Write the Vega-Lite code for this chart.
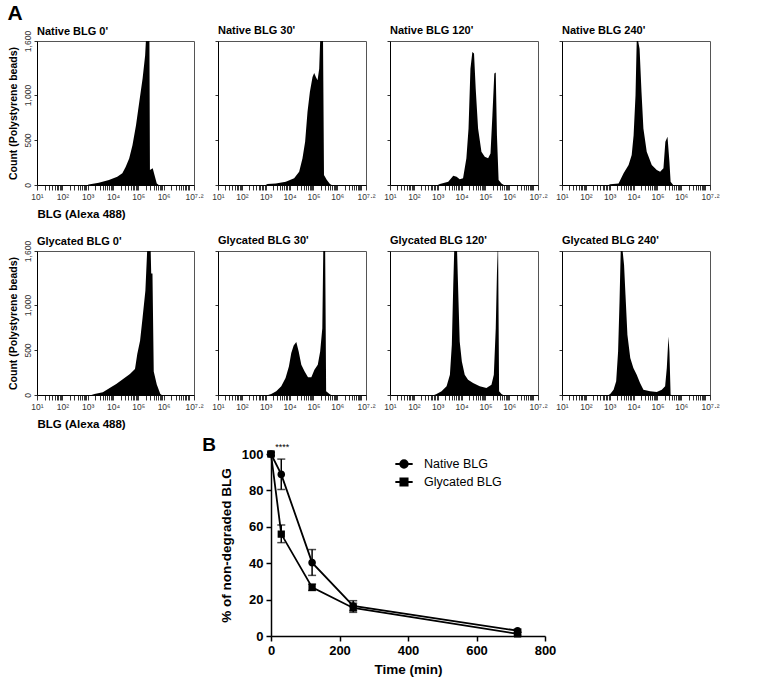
{
  "$schema": "https://vega.github.io/schema/vega-lite/v6.json",
  "title": {"text": "A", "fontSize": 21, "fontWeight": "bold", "anchor": "start", "frame": "bounds", "offset": 0},
  "padding": {"left": 7, "top": 3, "right": 3, "bottom": 2},
  "spacing": 4,
  "resolve": {"legend": {"shape": "independent", "stroke": "independent"}},
  "datasets": {
    "hist": [
      {"panel": "N0", "logI": 3.0, "count": 0}, {"panel": "N0", "logI": 3.04, "count": 5}, {"panel": "N0", "logI": 3.44, "count": 26}, {"panel": "N0", "logI": 3.84, "count": 55}, {"panel": "N0", "logI": 4.17, "count": 92}, {"panel": "N0", "logI": 4.37, "count": 130}, {"panel": "N0", "logI": 4.5, "count": 200}, {"panel": "N0", "logI": 4.64, "count": 295}, {"panel": "N0", "logI": 4.77, "count": 443}, {"panel": "N0", "logI": 4.91, "count": 665}, {"panel": "N0", "logI": 5.04, "count": 924}, {"panel": "N0", "logI": 5.17, "count": 1183}, {"panel": "N0", "logI": 5.27, "count": 1440}, {"panel": "N0", "logI": 5.3, "count": 1600}, {"panel": "N0", "logI": 5.44, "count": 1600}, {"panel": "N0", "logI": 5.46, "count": 166}, {"panel": "N0", "logI": 5.57, "count": 185}, {"panel": "N0", "logI": 5.64, "count": 110}, {"panel": "N0", "logI": 5.73, "count": 18}, {"panel": "N0", "logI": 5.81, "count": 0},
      {"panel": "N30", "logI": 3.0, "count": 0}, {"panel": "N30", "logI": 3.07, "count": 10}, {"panel": "N30", "logI": 3.42, "count": 18}, {"panel": "N30", "logI": 3.84, "count": 37}, {"panel": "N30", "logI": 4.19, "count": 74}, {"panel": "N30", "logI": 4.4, "count": 148}, {"panel": "N30", "logI": 4.54, "count": 296}, {"panel": "N30", "logI": 4.65, "count": 480}, {"panel": "N30", "logI": 4.75, "count": 813}, {"panel": "N30", "logI": 4.85, "count": 1035}, {"panel": "N30", "logI": 4.96, "count": 1200}, {"panel": "N30", "logI": 5.03, "count": 1245}, {"panel": "N30", "logI": 5.1, "count": 1200}, {"panel": "N30", "logI": 5.17, "count": 1164}, {"panel": "N30", "logI": 5.24, "count": 1293}, {"panel": "N30", "logI": 5.28, "count": 1600}, {"panel": "N30", "logI": 5.4, "count": 1600}, {"panel": "N30", "logI": 5.44, "count": 111}, {"panel": "N30", "logI": 5.56, "count": 55}, {"panel": "N30", "logI": 5.69, "count": 10}, {"panel": "N30", "logI": 5.76, "count": 0},
      {"panel": "N120", "logI": 3.0, "count": 0}, {"panel": "N120", "logI": 3.09, "count": 10}, {"panel": "N120", "logI": 3.44, "count": 37}, {"panel": "N120", "logI": 3.65, "count": 103}, {"panel": "N120", "logI": 3.79, "count": 92}, {"panel": "N120", "logI": 3.92, "count": 63}, {"panel": "N120", "logI": 4.06, "count": 74}, {"panel": "N120", "logI": 4.2, "count": 296}, {"panel": "N120", "logI": 4.29, "count": 628}, {"panel": "N120", "logI": 4.37, "count": 1293}, {"panel": "N120", "logI": 4.45, "count": 1478}, {"panel": "N120", "logI": 4.52, "count": 1460}, {"panel": "N120", "logI": 4.59, "count": 1072}, {"panel": "N120", "logI": 4.69, "count": 628}, {"panel": "N120", "logI": 4.83, "count": 370}, {"panel": "N120", "logI": 4.97, "count": 314}, {"panel": "N120", "logI": 5.11, "count": 296}, {"panel": "N120", "logI": 5.21, "count": 351}, {"panel": "N120", "logI": 5.29, "count": 776}, {"panel": "N120", "logI": 5.37, "count": 1238}, {"panel": "N120", "logI": 5.43, "count": 1250}, {"panel": "N120", "logI": 5.48, "count": 554}, {"panel": "N120", "logI": 5.55, "count": 55}, {"panel": "N120", "logI": 5.67, "count": 18}, {"panel": "N120", "logI": 5.77, "count": 0},
      {"panel": "N240", "logI": 2.95, "count": 0}, {"panel": "N240", "logI": 3.02, "count": 7}, {"panel": "N240", "logI": 3.37, "count": 18}, {"panel": "N240", "logI": 3.58, "count": 130}, {"panel": "N240", "logI": 3.79, "count": 222}, {"panel": "N240", "logI": 3.92, "count": 333}, {"panel": "N240", "logI": 4.0, "count": 554}, {"panel": "N240", "logI": 4.08, "count": 998}, {"panel": "N240", "logI": 4.13, "count": 1600}, {"panel": "N240", "logI": 4.19, "count": 1600}, {"panel": "N240", "logI": 4.25, "count": 1515}, {"panel": "N240", "logI": 4.33, "count": 1035}, {"panel": "N240", "logI": 4.41, "count": 628}, {"panel": "N240", "logI": 4.55, "count": 370}, {"panel": "N240", "logI": 4.76, "count": 222}, {"panel": "N240", "logI": 4.97, "count": 166}, {"panel": "N240", "logI": 5.11, "count": 148}, {"panel": "N240", "logI": 5.25, "count": 185}, {"panel": "N240", "logI": 5.33, "count": 480}, {"panel": "N240", "logI": 5.42, "count": 536}, {"panel": "N240", "logI": 5.5, "count": 259}, {"panel": "N240", "logI": 5.55, "count": 37}, {"panel": "N240", "logI": 5.66, "count": 0},
      {"panel": "G0", "logI": 3.15, "count": 0}, {"panel": "G0", "logI": 3.27, "count": 11}, {"panel": "G0", "logI": 3.6, "count": 30}, {"panel": "G0", "logI": 3.87, "count": 78}, {"panel": "G0", "logI": 4.13, "count": 122}, {"panel": "G0", "logI": 4.4, "count": 177}, {"panel": "G0", "logI": 4.67, "count": 233}, {"panel": "G0", "logI": 4.87, "count": 288}, {"panel": "G0", "logI": 4.96, "count": 455}, {"panel": "G0", "logI": 5.07, "count": 603}, {"panel": "G0", "logI": 5.17, "count": 862}, {"panel": "G0", "logI": 5.28, "count": 1158}, {"panel": "G0", "logI": 5.35, "count": 1600}, {"panel": "G0", "logI": 5.49, "count": 1600}, {"panel": "G0", "logI": 5.51, "count": 1350}, {"panel": "G0", "logI": 5.56, "count": 1350}, {"panel": "G0", "logI": 5.61, "count": 260}, {"panel": "G0", "logI": 5.73, "count": 118}, {"panel": "G0", "logI": 5.87, "count": 11}, {"panel": "G0", "logI": 5.93, "count": 0},
      {"panel": "G30", "logI": 3.1, "count": 0}, {"panel": "G30", "logI": 3.23, "count": 11}, {"panel": "G30", "logI": 3.44, "count": 41}, {"panel": "G30", "logI": 3.65, "count": 96}, {"panel": "G30", "logI": 3.83, "count": 188}, {"panel": "G30", "logI": 3.97, "count": 318}, {"panel": "G30", "logI": 4.07, "count": 466}, {"panel": "G30", "logI": 4.17, "count": 551}, {"panel": "G30", "logI": 4.28, "count": 588}, {"panel": "G30", "logI": 4.38, "count": 484}, {"panel": "G30", "logI": 4.49, "count": 336}, {"panel": "G30", "logI": 4.63, "count": 262}, {"panel": "G30", "logI": 4.77, "count": 196}, {"panel": "G30", "logI": 4.91, "count": 196}, {"panel": "G30", "logI": 5.04, "count": 281}, {"panel": "G30", "logI": 5.18, "count": 336}, {"panel": "G30", "logI": 5.28, "count": 484}, {"panel": "G30", "logI": 5.37, "count": 743}, {"panel": "G30", "logI": 5.41, "count": 1600}, {"panel": "G30", "logI": 5.49, "count": 1600}, {"panel": "G30", "logI": 5.53, "count": 41}, {"panel": "G30", "logI": 5.67, "count": 11}, {"panel": "G30", "logI": 5.74, "count": 0},
      {"panel": "G120", "logI": 2.85, "count": 0}, {"panel": "G120", "logI": 2.95, "count": 11}, {"panel": "G120", "logI": 3.16, "count": 41}, {"panel": "G120", "logI": 3.37, "count": 96}, {"panel": "G120", "logI": 3.51, "count": 225}, {"panel": "G120", "logI": 3.59, "count": 558}, {"panel": "G120", "logI": 3.65, "count": 1223}, {"panel": "G120", "logI": 3.69, "count": 1600}, {"panel": "G120", "logI": 3.81, "count": 1600}, {"panel": "G120", "logI": 3.87, "count": 1038}, {"panel": "G120", "logI": 3.92, "count": 595}, {"panel": "G120", "logI": 4.01, "count": 373}, {"panel": "G120", "logI": 4.13, "count": 225}, {"panel": "G120", "logI": 4.27, "count": 170}, {"panel": "G120", "logI": 4.48, "count": 133}, {"panel": "G120", "logI": 4.76, "count": 96}, {"panel": "G120", "logI": 5.04, "count": 78}, {"panel": "G120", "logI": 5.25, "count": 115}, {"panel": "G120", "logI": 5.35, "count": 225}, {"panel": "G120", "logI": 5.43, "count": 743}, {"panel": "G120", "logI": 5.48, "count": 1353}, {"panel": "G120", "logI": 5.51, "count": 1600}, {"panel": "G120", "logI": 5.53, "count": 1600}, {"panel": "G120", "logI": 5.57, "count": 41}, {"panel": "G120", "logI": 5.67, "count": 11}, {"panel": "G120", "logI": 5.74, "count": 0},
      {"panel": "G240", "logI": 2.95, "count": 0}, {"panel": "G240", "logI": 3.02, "count": 11}, {"panel": "G240", "logI": 3.16, "count": 59}, {"panel": "G240", "logI": 3.27, "count": 152}, {"panel": "G240", "logI": 3.35, "count": 484}, {"panel": "G240", "logI": 3.41, "count": 1038}, {"panel": "G240", "logI": 3.46, "count": 1600}, {"panel": "G240", "logI": 3.54, "count": 1600}, {"panel": "G240", "logI": 3.6, "count": 1445}, {"panel": "G240", "logI": 3.66, "count": 1112}, {"panel": "G240", "logI": 3.74, "count": 669}, {"panel": "G240", "logI": 3.86, "count": 410}, {"panel": "G240", "logI": 3.99, "count": 299}, {"panel": "G240", "logI": 4.13, "count": 225}, {"panel": "G240", "logI": 4.27, "count": 133}, {"panel": "G240", "logI": 4.41, "count": 59}, {"panel": "G240", "logI": 4.69, "count": 41}, {"panel": "G240", "logI": 4.97, "count": 33}, {"panel": "G240", "logI": 5.18, "count": 59}, {"panel": "G240", "logI": 5.32, "count": 96}, {"panel": "G240", "logI": 5.39, "count": 299}, {"panel": "G240", "logI": 5.46, "count": 650}, {"panel": "G240", "logI": 5.5, "count": 484}, {"panel": "G240", "logI": 5.55, "count": 4}, {"panel": "G240", "logI": 5.6, "count": 0}
    ],
    "deg": [
      {"group": "Native BLG", "time": 0, "pct": 100, "lo": 99, "hi": 101},
      {"group": "Native BLG", "time": 30, "pct": 88.8, "lo": 80.5, "hi": 97.2},
      {"group": "Native BLG", "time": 120, "pct": 40.3, "lo": 33.3, "hi": 47.5},
      {"group": "Native BLG", "time": 240, "pct": 16.5, "lo": 14, "hi": 19.4},
      {"group": "Native BLG", "time": 720, "pct": 2.9, "lo": 2, "hi": 3.8},
      {"group": "Glycated BLG", "time": 0, "pct": 100, "lo": 99, "hi": 101},
      {"group": "Glycated BLG", "time": 30, "pct": 56, "lo": 51.3, "hi": 61},
      {"group": "Glycated BLG", "time": 120, "pct": 26.7, "lo": 25, "hi": 28.5},
      {"group": "Glycated BLG", "time": 240, "pct": 15.4, "lo": 13, "hi": 18},
      {"group": "Glycated BLG", "time": 720, "pct": 1.2, "lo": 0.5, "hi": 1.9}
    ]
  },
  "vconcat": [
    {
      "spacing": 13,
      "vconcat": [
        {
          "spacing": 7,
          "hconcat": [
            {"data": {"name": "hist"}, "width": 157, "height": 144, "title": {"text": "Native BLG 0'", "offset": -7}, "transform": [{"filter": {"field": "panel", "equal": "N0"}}], "mark": {"type": "area", "color": "black", "clip": true},
             "encoding": {"x": {"field": "logI", "type": "quantitative", "scale": {"domain": [1, 7.2], "nice": false, "zero": false}, "axis": {"title": "BLG (Alexa 488)", "values": [1,1.301,1.477,1.602,1.699,1.778,1.845,1.903,1.954,2,2.301,2.477,2.602,2.699,2.778,2.845,2.903,2.954,3,3.301,3.477,3.602,3.699,3.778,3.845,3.903,3.954,4,4.301,4.477,4.602,4.699,4.778,4.845,4.903,4.954,5,5.301,5.477,5.602,5.699,5.778,5.845,5.903,5.954,6,6.301,6.477,6.602,6.699,6.778,6.845,6.903,6.954,7,7.2]}},
                          "y": {"field": "count", "type": "quantitative", "scale": {"domain": [0, 1600], "nice": false}, "axis": {"title": "Count (Polystyrene beads)", "labelExpr": "format(datum.value, ',')", "labelOverlap": false, "values": [0, 500, 1000, 1600]}}}},
            {"data": {"name": "hist"}, "width": 148, "height": 144, "title": "Native BLG 30'", "transform": [{"filter": {"field": "panel", "equal": "N30"}}], "mark": {"type": "area", "color": "black", "clip": true},
             "encoding": {"x": {"field": "logI", "type": "quantitative", "scale": {"domain": [1, 7.2], "nice": false, "zero": false}, "axis": {"title": null, "values": [1,1.301,1.477,1.602,1.699,1.778,1.845,1.903,1.954,2,2.301,2.477,2.602,2.699,2.778,2.845,2.903,2.954,3,3.301,3.477,3.602,3.699,3.778,3.845,3.903,3.954,4,4.301,4.477,4.602,4.699,4.778,4.845,4.903,4.954,5,5.301,5.477,5.602,5.699,5.778,5.845,5.903,5.954,6,6.301,6.477,6.602,6.699,6.778,6.845,6.903,6.954,7,7.2]}},
                          "y": {"field": "count", "type": "quantitative", "scale": {"domain": [0, 1600], "nice": false}, "axis": {"title": null, "labels": false, "values": [0, 500, 1000, 1600]}}}},
            {"data": {"name": "hist"}, "width": 148, "height": 144, "title": "Native BLG 120'", "transform": [{"filter": {"field": "panel", "equal": "N120"}}], "mark": {"type": "area", "color": "black", "clip": true},
             "encoding": {"x": {"field": "logI", "type": "quantitative", "scale": {"domain": [1, 7.2], "nice": false, "zero": false}, "axis": {"title": null, "values": [1,1.301,1.477,1.602,1.699,1.778,1.845,1.903,1.954,2,2.301,2.477,2.602,2.699,2.778,2.845,2.903,2.954,3,3.301,3.477,3.602,3.699,3.778,3.845,3.903,3.954,4,4.301,4.477,4.602,4.699,4.778,4.845,4.903,4.954,5,5.301,5.477,5.602,5.699,5.778,5.845,5.903,5.954,6,6.301,6.477,6.602,6.699,6.778,6.845,6.903,6.954,7,7.2]}},
                          "y": {"field": "count", "type": "quantitative", "scale": {"domain": [0, 1600], "nice": false}, "axis": {"title": null, "labels": false, "values": [0, 500, 1000, 1600]}}}},
            {"data": {"name": "hist"}, "width": 148, "height": 144, "title": "Native BLG 240'", "transform": [{"filter": {"field": "panel", "equal": "N240"}}], "mark": {"type": "area", "color": "black", "clip": true},
             "encoding": {"x": {"field": "logI", "type": "quantitative", "scale": {"domain": [1, 7.2], "nice": false, "zero": false}, "axis": {"title": null, "values": [1,1.301,1.477,1.602,1.699,1.778,1.845,1.903,1.954,2,2.301,2.477,2.602,2.699,2.778,2.845,2.903,2.954,3,3.301,3.477,3.602,3.699,3.778,3.845,3.903,3.954,4,4.301,4.477,4.602,4.699,4.778,4.845,4.903,4.954,5,5.301,5.477,5.602,5.699,5.778,5.845,5.903,5.954,6,6.301,6.477,6.602,6.699,6.778,6.845,6.903,6.954,7,7.2]}},
                          "y": {"field": "count", "type": "quantitative", "scale": {"domain": [0, 1600], "nice": false}, "axis": {"title": null, "labels": false, "values": [0, 500, 1000, 1600]}}}}
          ]
        },
        {
          "spacing": 7,
          "hconcat": [
            {"data": {"name": "hist"}, "width": 157, "height": 144, "title": {"text": "Glycated BLG 0'", "offset": -7}, "transform": [{"filter": {"field": "panel", "equal": "G0"}}], "mark": {"type": "area", "color": "black", "clip": true},
             "encoding": {"x": {"field": "logI", "type": "quantitative", "scale": {"domain": [1, 7.2], "nice": false, "zero": false}, "axis": {"title": "BLG (Alexa 488)", "values": [1,1.301,1.477,1.602,1.699,1.778,1.845,1.903,1.954,2,2.301,2.477,2.602,2.699,2.778,2.845,2.903,2.954,3,3.301,3.477,3.602,3.699,3.778,3.845,3.903,3.954,4,4.301,4.477,4.602,4.699,4.778,4.845,4.903,4.954,5,5.301,5.477,5.602,5.699,5.778,5.845,5.903,5.954,6,6.301,6.477,6.602,6.699,6.778,6.845,6.903,6.954,7,7.2]}},
                          "y": {"field": "count", "type": "quantitative", "scale": {"domain": [0, 1600], "nice": false}, "axis": {"title": "Count (Polystyrene beads)", "labelExpr": "format(datum.value, ',')", "labelOverlap": false, "values": [0, 500, 1000, 1600]}}}},
            {"data": {"name": "hist"}, "width": 148, "height": 144, "title": "Glycated BLG 30'", "transform": [{"filter": {"field": "panel", "equal": "G30"}}], "mark": {"type": "area", "color": "black", "clip": true},
             "encoding": {"x": {"field": "logI", "type": "quantitative", "scale": {"domain": [1, 7.2], "nice": false, "zero": false}, "axis": {"title": null, "values": [1,1.301,1.477,1.602,1.699,1.778,1.845,1.903,1.954,2,2.301,2.477,2.602,2.699,2.778,2.845,2.903,2.954,3,3.301,3.477,3.602,3.699,3.778,3.845,3.903,3.954,4,4.301,4.477,4.602,4.699,4.778,4.845,4.903,4.954,5,5.301,5.477,5.602,5.699,5.778,5.845,5.903,5.954,6,6.301,6.477,6.602,6.699,6.778,6.845,6.903,6.954,7,7.2]}},
                          "y": {"field": "count", "type": "quantitative", "scale": {"domain": [0, 1600], "nice": false}, "axis": {"title": null, "labels": false, "values": [0, 500, 1000, 1600]}}}},
            {"data": {"name": "hist"}, "width": 148, "height": 144, "title": "Glycated BLG 120'", "transform": [{"filter": {"field": "panel", "equal": "G120"}}], "mark": {"type": "area", "color": "black", "clip": true},
             "encoding": {"x": {"field": "logI", "type": "quantitative", "scale": {"domain": [1, 7.2], "nice": false, "zero": false}, "axis": {"title": null, "values": [1,1.301,1.477,1.602,1.699,1.778,1.845,1.903,1.954,2,2.301,2.477,2.602,2.699,2.778,2.845,2.903,2.954,3,3.301,3.477,3.602,3.699,3.778,3.845,3.903,3.954,4,4.301,4.477,4.602,4.699,4.778,4.845,4.903,4.954,5,5.301,5.477,5.602,5.699,5.778,5.845,5.903,5.954,6,6.301,6.477,6.602,6.699,6.778,6.845,6.903,6.954,7,7.2]}},
                          "y": {"field": "count", "type": "quantitative", "scale": {"domain": [0, 1600], "nice": false}, "axis": {"title": null, "labels": false, "values": [0, 500, 1000, 1600]}}}},
            {"data": {"name": "hist"}, "width": 148, "height": 144, "title": "Glycated BLG 240'", "transform": [{"filter": {"field": "panel", "equal": "G240"}}], "mark": {"type": "area", "color": "black", "clip": true},
             "encoding": {"x": {"field": "logI", "type": "quantitative", "scale": {"domain": [1, 7.2], "nice": false, "zero": false}, "axis": {"title": null, "values": [1,1.301,1.477,1.602,1.699,1.778,1.845,1.903,1.954,2,2.301,2.477,2.602,2.699,2.778,2.845,2.903,2.954,3,3.301,3.477,3.602,3.699,3.778,3.845,3.903,3.954,4,4.301,4.477,4.602,4.699,4.778,4.845,4.903,4.954,5,5.301,5.477,5.602,5.699,5.778,5.845,5.903,5.954,6,6.301,6.477,6.602,6.699,6.778,6.845,6.903,6.954,7,7.2]}},
                          "y": {"field": "count", "type": "quantitative", "scale": {"domain": [0, 1600], "nice": false}, "axis": {"title": null, "labels": false, "values": [0, 500, 1000, 1600]}}}}
          ]
        }
      ]
    },
    {
      "spacing": 0,
      "resolve": {"legend": {"shape": "independent", "stroke": "independent"}},
      "hconcat": [
        {"data": {"values": []}, "width": 165, "height": 10, "mark": {"type": "point", "opacity": 0}, "encoding": {}, "view": {"stroke": null}},
        {
          "data": {"name": "deg"},
          "width": 274, "height": 182,
          "view": {"stroke": null},
          "title": {"text": "B", "fontSize": 19, "fontWeight": "bold", "anchor": "start", "frame": "bounds", "dx": -17, "dy": 17},
          "encoding": {
            "x": {"field": "time", "type": "quantitative", "scale": {"domain": [0, 800], "nice": false},
                  "axis": {"title": "Time (min)", "values": [0, 200, 400, 600, 800], "labelExpr": "datum.label", "labelFontSize": 13, "labelFontWeight": "bold", "labelColor": "black", "tickSize": 5, "tickWidth": 1.5, "tickColor": "black", "domainWidth": 1.5, "labelPadding": 3, "titleAnchor": "middle", "titleAlign": "center", "titleFontSize": 13.5, "titlePadding": 5}}
          },
          "layer": [
            {"mark": {"type": "line", "strokeWidth": 1.8},
             "encoding": {"y": {"field": "pct", "type": "quantitative", "scale": {"domain": [0, 100], "nice": false},
                  "axis": {"title": "% of non-degraded BLG", "values": [0, 20, 40, 60, 80, 100], "labelExpr": "datum.label", "labelOverlap": false, "labelFlush": false, "labelAngle": 0, "labelAlign": "right", "labelBaseline": "middle", "labelFontSize": 13, "labelFontWeight": "bold", "labelColor": "black", "tickSize": 5, "tickWidth": 1.5, "tickColor": "black", "domainWidth": 1.5, "labelPadding": 3, "titleFontSize": 13.5, "titlePadding": 8}},
                          "stroke": {"field": "group", "type": "nominal", "scale": {"domain": ["Native BLG", "Glycated BLG"], "range": ["black", "black"]},
                                     "legend": {"title": null, "orient": "none", "legendX": 123, "legendY": 0, "labelFontSize": 12.5, "labelColor": "black", "labelOffset": 10, "symbolSize": 300, "rowPadding": 0, "symbolStrokeWidth": 1.8}}}},
            {"mark": {"type": "rule", "color": "black", "strokeWidth": 1.5},
             "encoding": {"y": {"field": "lo", "type": "quantitative", "axis": {"title": "% of non-degraded BLG", "values": [0, 20, 40, 60, 80, 100], "labelExpr": "datum.label", "labelOverlap": false, "labelFlush": false, "labelAngle": 0, "labelAlign": "right", "labelBaseline": "middle", "labelFontSize": 13, "labelFontWeight": "bold", "labelColor": "black", "tickSize": 5, "tickWidth": 1.5, "tickColor": "black", "domainWidth": 1.5, "labelPadding": 3, "titleFontSize": 13.5, "titlePadding": 8}}, "y2": {"field": "hi"}}},
            {"mark": {"type": "tick", "orient": "horizontal", "color": "black", "size": 8, "thickness": 1.5},
             "encoding": {"y": {"field": "lo", "type": "quantitative", "axis": {"title": "% of non-degraded BLG", "values": [0, 20, 40, 60, 80, 100], "labelExpr": "datum.label", "labelOverlap": false, "labelFlush": false, "labelAngle": 0, "labelAlign": "right", "labelBaseline": "middle", "labelFontSize": 13, "labelFontWeight": "bold", "labelColor": "black", "tickSize": 5, "tickWidth": 1.5, "tickColor": "black", "domainWidth": 1.5, "labelPadding": 3, "titleFontSize": 13.5, "titlePadding": 8}}}},
            {"mark": {"type": "tick", "orient": "horizontal", "color": "black", "size": 8, "thickness": 1.5},
             "encoding": {"y": {"field": "hi", "type": "quantitative", "axis": {"title": "% of non-degraded BLG", "values": [0, 20, 40, 60, 80, 100], "labelExpr": "datum.label", "labelOverlap": false, "labelFlush": false, "labelAngle": 0, "labelAlign": "right", "labelBaseline": "middle", "labelFontSize": 13, "labelFontWeight": "bold", "labelColor": "black", "tickSize": 5, "tickWidth": 1.5, "tickColor": "black", "domainWidth": 1.5, "labelPadding": 3, "titleFontSize": 13.5, "titlePadding": 8}}}},
            {"mark": {"type": "point", "filled": true, "opacity": 1, "size": 300, "strokeWidth": 0},
             "encoding": {"y": {"field": "pct", "type": "quantitative", "axis": {"title": "% of non-degraded BLG", "values": [0, 20, 40, 60, 80, 100], "labelExpr": "datum.label", "labelOverlap": false, "labelFlush": false, "labelAngle": 0, "labelAlign": "right", "labelBaseline": "middle", "labelFontSize": 13, "labelFontWeight": "bold", "labelColor": "black", "tickSize": 5, "tickWidth": 1.5, "tickColor": "black", "domainWidth": 1.5, "labelPadding": 3, "titleFontSize": 13.5, "titlePadding": 8}},
                          "shape": {"field": "group", "type": "nominal", "scale": {"domain": ["Native BLG", "Glycated BLG"], "range": ["M-1,0H1M0.44,0A0.44,0.44,0,1,1,-0.44,0A0.44,0.44,0,1,1,0.44,0Z", "M-1,0H1M-0.42,-0.42H0.42V0.42H-0.42Z"]},
                                    "legend": {"title": null, "orient": "none", "legendX": 123, "legendY": 0, "labelFontSize": 12.5, "labelColor": "black", "labelOffset": 10, "symbolSize": 300, "rowPadding": 0, "symbolStrokeWidth": 1.8}},
                          "color": {"value": "black"}}},
            {"data": {"values": [{"time": 33, "pct": 104, "note": "****"}]},
             "mark": {"type": "text", "fontSize": 9, "color": "black"},
             "encoding": {"y": {"field": "pct", "type": "quantitative", "axis": {"title": "% of non-degraded BLG", "values": [0, 20, 40, 60, 80, 100], "labelExpr": "datum.label", "labelOverlap": false, "labelFlush": false, "labelAngle": 0, "labelAlign": "right", "labelBaseline": "middle", "labelFontSize": 13, "labelFontWeight": "bold", "labelColor": "black", "tickSize": 5, "tickWidth": 1.5, "tickColor": "black", "domainWidth": 1.5, "labelPadding": 3, "titleFontSize": 13.5, "titlePadding": 8}}, "text": {"field": "note"}}}
          ]
        }
      ]
    }
  ],
  "config": {
    "font": "Liberation Sans",
    "view": {"stroke": "#555", "strokeWidth": 1},
    "title": {"anchor": "start", "fontSize": 11, "fontWeight": "bold", "offset": 5, "color": "black", "frame": "group"},
    "axis": {"grid": false, "domainColor": "black", "tickColor": "#333", "titleColor": "black", "labelColor": "#333", "titleFontWeight": "bold"},
    "axisX": {"labelExpr": "datum.value == 7.2 ? '10⁷·²' : ((datum.value % 1 == 0 && datum.value < 7) ? '10' + ['⁰','¹','²','³','⁴','⁵','⁶','⁷'][datum.value] : '')", "labelFontSize": 8.5, "tickSize": 5, "labelPadding": 2, "labelOverlap": false, "labelFlush": false, "titleFontSize": 11.5, "titleAnchor": "start", "titleAlign": "left", "titlePadding": 8},
    "axisY": {"labelAngle": -90, "labelAlign": "center", "labelBaseline": "bottom", "labelFontSize": 8.5, "tickSize": 3, "labelPadding": 2, "titleFontSize": 10.5, "titlePadding": 5}
  }
}
